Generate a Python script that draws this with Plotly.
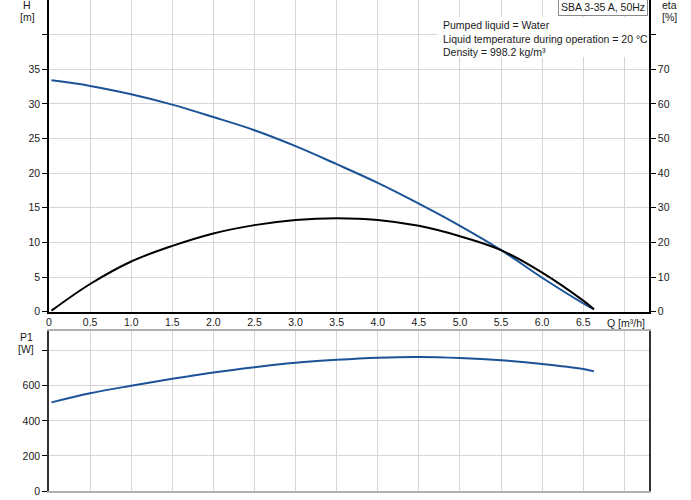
import plotly.graph_objects as go

# ---- data ----
Q = [0.03, 0.5, 1.0, 1.5, 2.0, 2.5, 3.0, 3.5, 4.0, 4.5, 5.0, 5.5, 6.0, 6.5, 6.63]
H = [33.4, 32.6, 31.4, 29.9, 28.1, 26.2, 23.9, 21.3, 18.6, 15.6, 12.4, 8.9, 4.9, 1.2, 0.35]
ETA = [0.3, 8.0, 14.5, 19.0, 22.6, 25.0, 26.5, 27.0, 26.5, 24.8, 21.8, 17.8, 11.3, 3.2, 0.7]
P1 = [505, 557, 600, 640, 676, 706, 731, 748, 760, 764, 758, 745, 724, 695, 682]

Q_TICKS = [0, 0.5, 1.0, 1.5, 2.0, 2.5, 3.0, 3.5, 4.0, 4.5, 5.0, 5.5, 6.0, 6.5, 7.0]
Q_LABELS = ["0", "0.5", "1.0", "1.5", "2.0", "2.5", "3.0", "3.5", "4.0", "4.5",
            "5.0", "5.5", "6.0", "6.5", ""]
H_TICKS = [0, 5, 10, 15, 20, 25, 30, 35, 40]
H_LABELS = ["0", "5", "10", "15", "20", "25", "30", "35", ""]
ETA_TICKS = [0, 10, 20, 30, 40, 50, 60, 70, 80]
ETA_LABELS = ["0", "10", "20", "30", "40", "50", "60", "70", ""]
P_TICKS = [0, 200, 400, 600, 800]
P_LABELS = ["0", "200", "400", "600", ""]

W, HT = 691, 500
ML, MR, MT, MB = 49, 42, 0, 9
PW, PH = W - ML - MR, HT - MT - MB

def px(x):
    return (x - ML) / PW

def py(y):
    return (HT - MB - y) / PH

BLUE = "#1b5396"
FONT = "Liberation Sans, Arial, sans-serif"
TXT = "#1a1a1a"
GRID = "#d6d6d6"
FS = 10.5

fig = go.Figure()
fig.add_trace(go.Scatter(x=Q, y=H, mode="lines",
                         line=dict(color=BLUE, width=2, shape="spline", smoothing=1.0),
                         xaxis="x", yaxis="y", showlegend=False))
fig.add_trace(go.Scatter(x=Q, y=ETA, mode="lines",
                         line=dict(color="black", width=2, shape="spline", smoothing=1.0),
                         xaxis="x", yaxis="y3", showlegend=False))
fig.add_trace(go.Scatter(x=Q, y=P1, mode="lines",
                         line=dict(color=BLUE, width=2, shape="spline", smoothing=1.0),
                         xaxis="x2", yaxis="y2", showlegend=False))

top_dom = [py(311.7), 1.0]
bot_dom = [0.0, py(331)]

tickfont = dict(family=FONT, size=FS, color=TXT)

fig.update_layout(
    width=W, height=HT,
    margin=dict(l=ML, r=MR, t=MT, b=MB),
    paper_bgcolor="white", plot_bgcolor="white",
    font=dict(family=FONT, size=FS, color=TXT),
    xaxis=dict(domain=[0, 1], range=[0, 7.3], anchor="y",
               tickvals=Q_TICKS, ticktext=Q_LABELS, tickfont=tickfont,
               showgrid=True, gridcolor=GRID, gridwidth=1,
               showline=True, linecolor="black", linewidth=1.5,
               ticks="", zeroline=False),
    yaxis=dict(domain=top_dom, range=[0, 45], anchor="x",
               tickvals=H_TICKS, ticktext=H_LABELS, tickfont=tickfont,
               showgrid=True, gridcolor=GRID, gridwidth=1,
               showline=True, linecolor="black", linewidth=1.5,
               ticks="outside", ticklen=5, tickcolor="black", zeroline=False),
    yaxis3=dict(range=[0, 90], overlaying="y", side="right", anchor="x",
                tickvals=ETA_TICKS, ticktext=ETA_LABELS, tickfont=tickfont,
                showgrid=False, showline=True, linecolor="black", linewidth=1.5,
                ticks="outside", ticklen=5, tickcolor="black", zeroline=False),
    xaxis2=dict(domain=[0, 1], range=[0, 7.3], anchor="y2", matches="x",
                tickvals=Q_TICKS, showticklabels=False,
                showgrid=True, gridcolor=GRID, gridwidth=1,
                showline=True, linecolor="#b0b0b0", linewidth=2, mirror=True,
                ticks="", zeroline=False),
    yaxis2=dict(domain=bot_dom, range=[0, 912], anchor="x2",
                tickvals=P_TICKS, ticktext=P_LABELS, tickfont=tickfont,
                showgrid=True, gridcolor=GRID, gridwidth=1,
                showline=True, linecolor="#333333", linewidth=1.5, mirror=True,
                ticks="outside", ticklen=5, tickcolor="black", zeroline=False),
)

# white panel behind the conditions text
fig.add_shape(type="rect", xref="paper", yref="paper",
              x0=px(437), x1=px(648), y0=py(57), y1=py(17),
              fillcolor="white", line=dict(width=0), layer="above")

ann = []
def text(x, y, s, xanchor="center", **kw):
    ann.append(dict(x=px(x), y=py(y), xref="paper", yref="paper", text=s,
                    showarrow=False, xanchor=xanchor, yanchor="middle",
                    font=dict(family=FONT, size=FS, color=TXT), **kw))

text(27, 5, "H")
text(27, 17, "[m]")
text(669, 5, "eta")
text(669, 17, "[%]")
text(26, 337, "P1")
text(26, 349, "[W]")
text(626, 323, "Q [m³/h]")
text(441, 25.5, "Pumped liquid = Water", xanchor="left")
text(441, 39, "Liquid temperature during operation = 20 °C", xanchor="left")
text(441, 51.5, "Density = 998.2 kg/m³", xanchor="left")
text(603, 7, "SBA 3-35 A, 50Hz", bgcolor="white", bordercolor="#8a8a8a",
     borderwidth=1, borderpad=2)
fig.update_layout(annotations=ann)

fig.write_html("out.html", config={"displayModeBar": False},
               post_script="document.body.style.margin='0';")
